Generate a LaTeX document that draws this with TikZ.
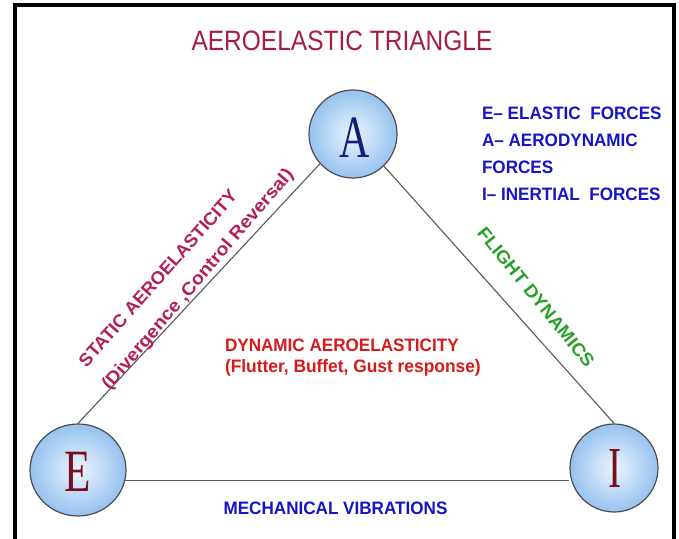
\documentclass[tikz,border=0pt]{standalone}
\usepackage{fontspec}
\usepackage{graphicx}
\usetikzlibrary{shapes.geometric}
\setmainfont{Liberation Sans}
\newfontfamily\serifL{Liberation Serif}
\definecolor{titlered}{RGB}{165,30,60}
\definecolor{statred}{RGB}{180,30,90}
\definecolor{dynred}{RGB}{215,25,25}
\definecolor{flgreen}{RGB}{40,160,40}
\definecolor{legblue}{RGB}{20,20,200}
\definecolor{letA}{RGB}{20,30,120}
\definecolor{letE}{RGB}{120,15,30}
\definecolor{ballin}{RGB}{236,244,252}
\definecolor{ballout}{RGB}{150,195,240}
\newcommand{\sx}[2]{\scalebox{#1}[1]{#2}}
\newcommand{\bsize}{\fontsize{18}{22}\selectfont\bfseries}
\begin{document}
\begin{tikzpicture}[x=1pt,y=1pt,
  ball/.style={ellipse, draw=black!70, line width=1.2pt, shading=radial,
    inner color=ballin, outer color=ballout, inner sep=0pt},
  conn/.style={draw=black!65, line width=1.1pt},
  txt/.style={inner sep=0pt, outer sep=0pt}]
\useasboundingbox (0,0) rectangle (679,538);
% frame
\draw[line width=4pt] (15,-5) -- (15,532.5) -- (673.5,532.5) -- (673.5,-5);
% title
\node[txt, text=titlered] (title) at (342,497)
  {\fontsize{28}{32}\selectfont\sx{0.875}{AEROELASTIC TRIANGLE}};
% balls
\node[ball, minimum width=88pt, minimum height=88pt] (A) at (353,404) {};
\node[ball, minimum width=96pt, minimum height=92pt] (E) at (78,68) {};
\node[ball, minimum width=88pt, minimum height=88pt] (I) at (614,70) {};
\node[txt, text=letA] (Al) at (355,400) {\serifL\fontsize{60}{60}\selectfont\sx{0.7}{A}};
\node[txt, text=letE] (El) at (78,66) {\serifL\fontsize{60}{60}\selectfont\sx{0.72}{E}};
\node[txt, text=letE] (Il) at (615,69) {\serifL\fontsize{58}{60}\selectfont\sx{0.68}{I}};
% connectors
\draw[conn] (A.222) -- (E.north);
\draw[conn] (A.-46) -- (I.north);
\draw[conn] (E.-12) -- (E.-12 -| I.west);
% legend
\node[txt, text=legblue, anchor=west] (l1) at (482,425) {\bsize\sx{0.95}{E\textendash\ ELASTIC\ \ FORCES}};
\node[txt, text=legblue, anchor=west] (l2) at (482,398) {\bsize\sx{0.95}{A\textendash\ AERODYNAMIC}};
\node[txt, text=legblue, anchor=west] (l3) at (482,371) {\bsize\sx{0.95}{FORCES}};
\node[txt, text=legblue, anchor=west] (l4) at (482,344) {\bsize\sx{0.95}{I\textendash\ INERTIAL\ \ FORCES}};
% static
\node[txt, text=statred, anchor=west, rotate=48.5] (s1) at (82,174) {\bsize\sx{1.02}{STATIC AEROELASTICITY}};
\node[txt, text=statred, anchor=west, rotate=49.5] (s2) at (106,150) {\bsize\sx{1.08}{(Divergence ,Control Reversal)}};
% flight
\node[txt, text=flgreen, rotate=-51] (fd) at (536,241) {\bsize\sx{1.05}{FLIGHT DYNAMICS}};
% dynamic
\node[txt, text=dynred, anchor=west] (d1) at (225,193) {\bsize\sx{0.95}{DYNAMIC AEROELASTICITY}};
\node[txt, text=dynred, anchor=base west] (d2) at (225,165) {\bsize\sx{0.965}{(Flutter, Buffet, Gust response)}};
% mechanical
\node[txt, text=legblue] (mv) at (335.5,29.5) {\bsize\sx{0.95}{MECHANICAL VIBRATIONS}};
\end{tikzpicture}
\end{document}
